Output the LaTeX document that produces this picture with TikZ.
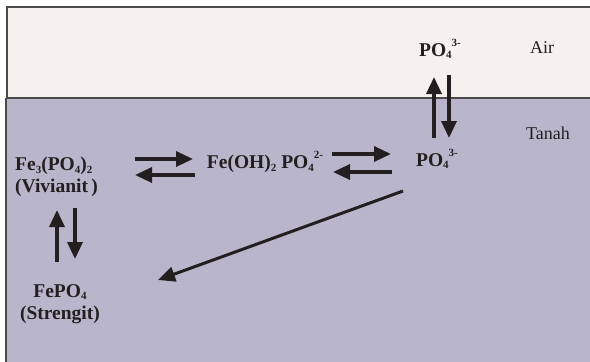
\documentclass[tikz,border=0pt]{standalone}
\usepackage{fontspec}
\setmainfont{Liberation Serif}
\usetikzlibrary{arrows.meta}
\definecolor{airbg}{HTML}{F6F1EF}
\definecolor{soilbg}{HTML}{B9B6CC}
\definecolor{ink}{HTML}{231F20}
\definecolor{frame}{HTML}{4A4A4A}
\tikzset{
  chem/.style={inner sep=0pt, text=ink, font=\fontsize{19.5}{22}\selectfont\bfseries},
  lbl/.style={inner sep=0pt, text=ink, font=\fontsize{18}{21}\selectfont},
  rx/.style={draw=ink, line width=3.4pt, -{Triangle[length=17pt,width=15pt]}},
}
\newcommand{\sbs}[1]{\raisebox{-0.3ex}{\fontsize{11}{12}\selectfont #1}}
\newcommand{\sps}[1]{\raisebox{1.1ex}{\fontsize{11}{12}\selectfont #1}}
\begin{document}
\begin{tikzpicture}[x=1pt,y=-1pt]
\useasboundingbox (0,0) rectangle (590,362);
% regions
\fill[airbg] (7,7) rectangle (590,98);
\fill[soilbg] (6,98) rectangle (590,362);
\draw[frame, line width=1.6pt] (7,98) -- (7,7) -- (590,7);
\draw[frame, line width=1.6pt] (6,98) -- (590,98);
\draw[frame, line width=1.6pt] (6,98) -- (6,362);
% labels
\node[lbl] (air) at (542,48) {Air};
\node[lbl] (tanah) at (548,133) {Tanah};
% species
\node[chem] (poair) at (440,49) {PO\sbs{4}\sps{3-}};
\node[chem] (posoil) at (437,159) {PO\sbs{4}\sps{3-}};
\node[chem] (feoh) at (265,162) {Fe(OH)\sbs{2} PO\sbs{4}\sps{2-}};
\node[chem, anchor=west, align=left] (viv) at (15,177) {Fe\sbs{3}(PO\sbs{4})\sbs{2}\\(Vivianit\,)};
\node[chem, align=center] (streng) at (60,304) {FePO\sbs{4}\\(Strengit)};
% arrow end points
\coordinate (a1s) at (135,159); \coordinate (a1e) at (193,159);
\coordinate (a2s) at (195,175); \coordinate (a2e) at (135,175);
\coordinate (b1s) at (332,154); \coordinate (b1e) at (391,154);
\coordinate (b2s) at (392,172); \coordinate (b2e) at (333,172);
\coordinate (c1s) at (434,138); \coordinate (c1e) at (434,77);
\coordinate (c2s) at (449,75);  \coordinate (c2e) at (449,138);
\coordinate (d1s) at (57,262);  \coordinate (d1e) at (57,210);
\coordinate (d2s) at (75,208);  \coordinate (d2e) at (75,259);
\coordinate (es) at (403,191);  \coordinate (ee) at (158,280);
% arrows
\draw[rx] (a1s) -- (a1e);
\draw[rx] (a2s) -- (a2e);
\draw[rx] (b1s) -- (b1e);
\draw[rx] (b2s) -- (b2e);
\draw[rx] (c1s) -- (c1e);
\draw[rx] (c2s) -- (c2e);
\draw[rx] (d1s) -- (d1e);
\draw[rx] (d2s) -- (d2e);
\draw[rx, line width=3pt] (es) -- (ee);
\end{tikzpicture}
\end{document}
